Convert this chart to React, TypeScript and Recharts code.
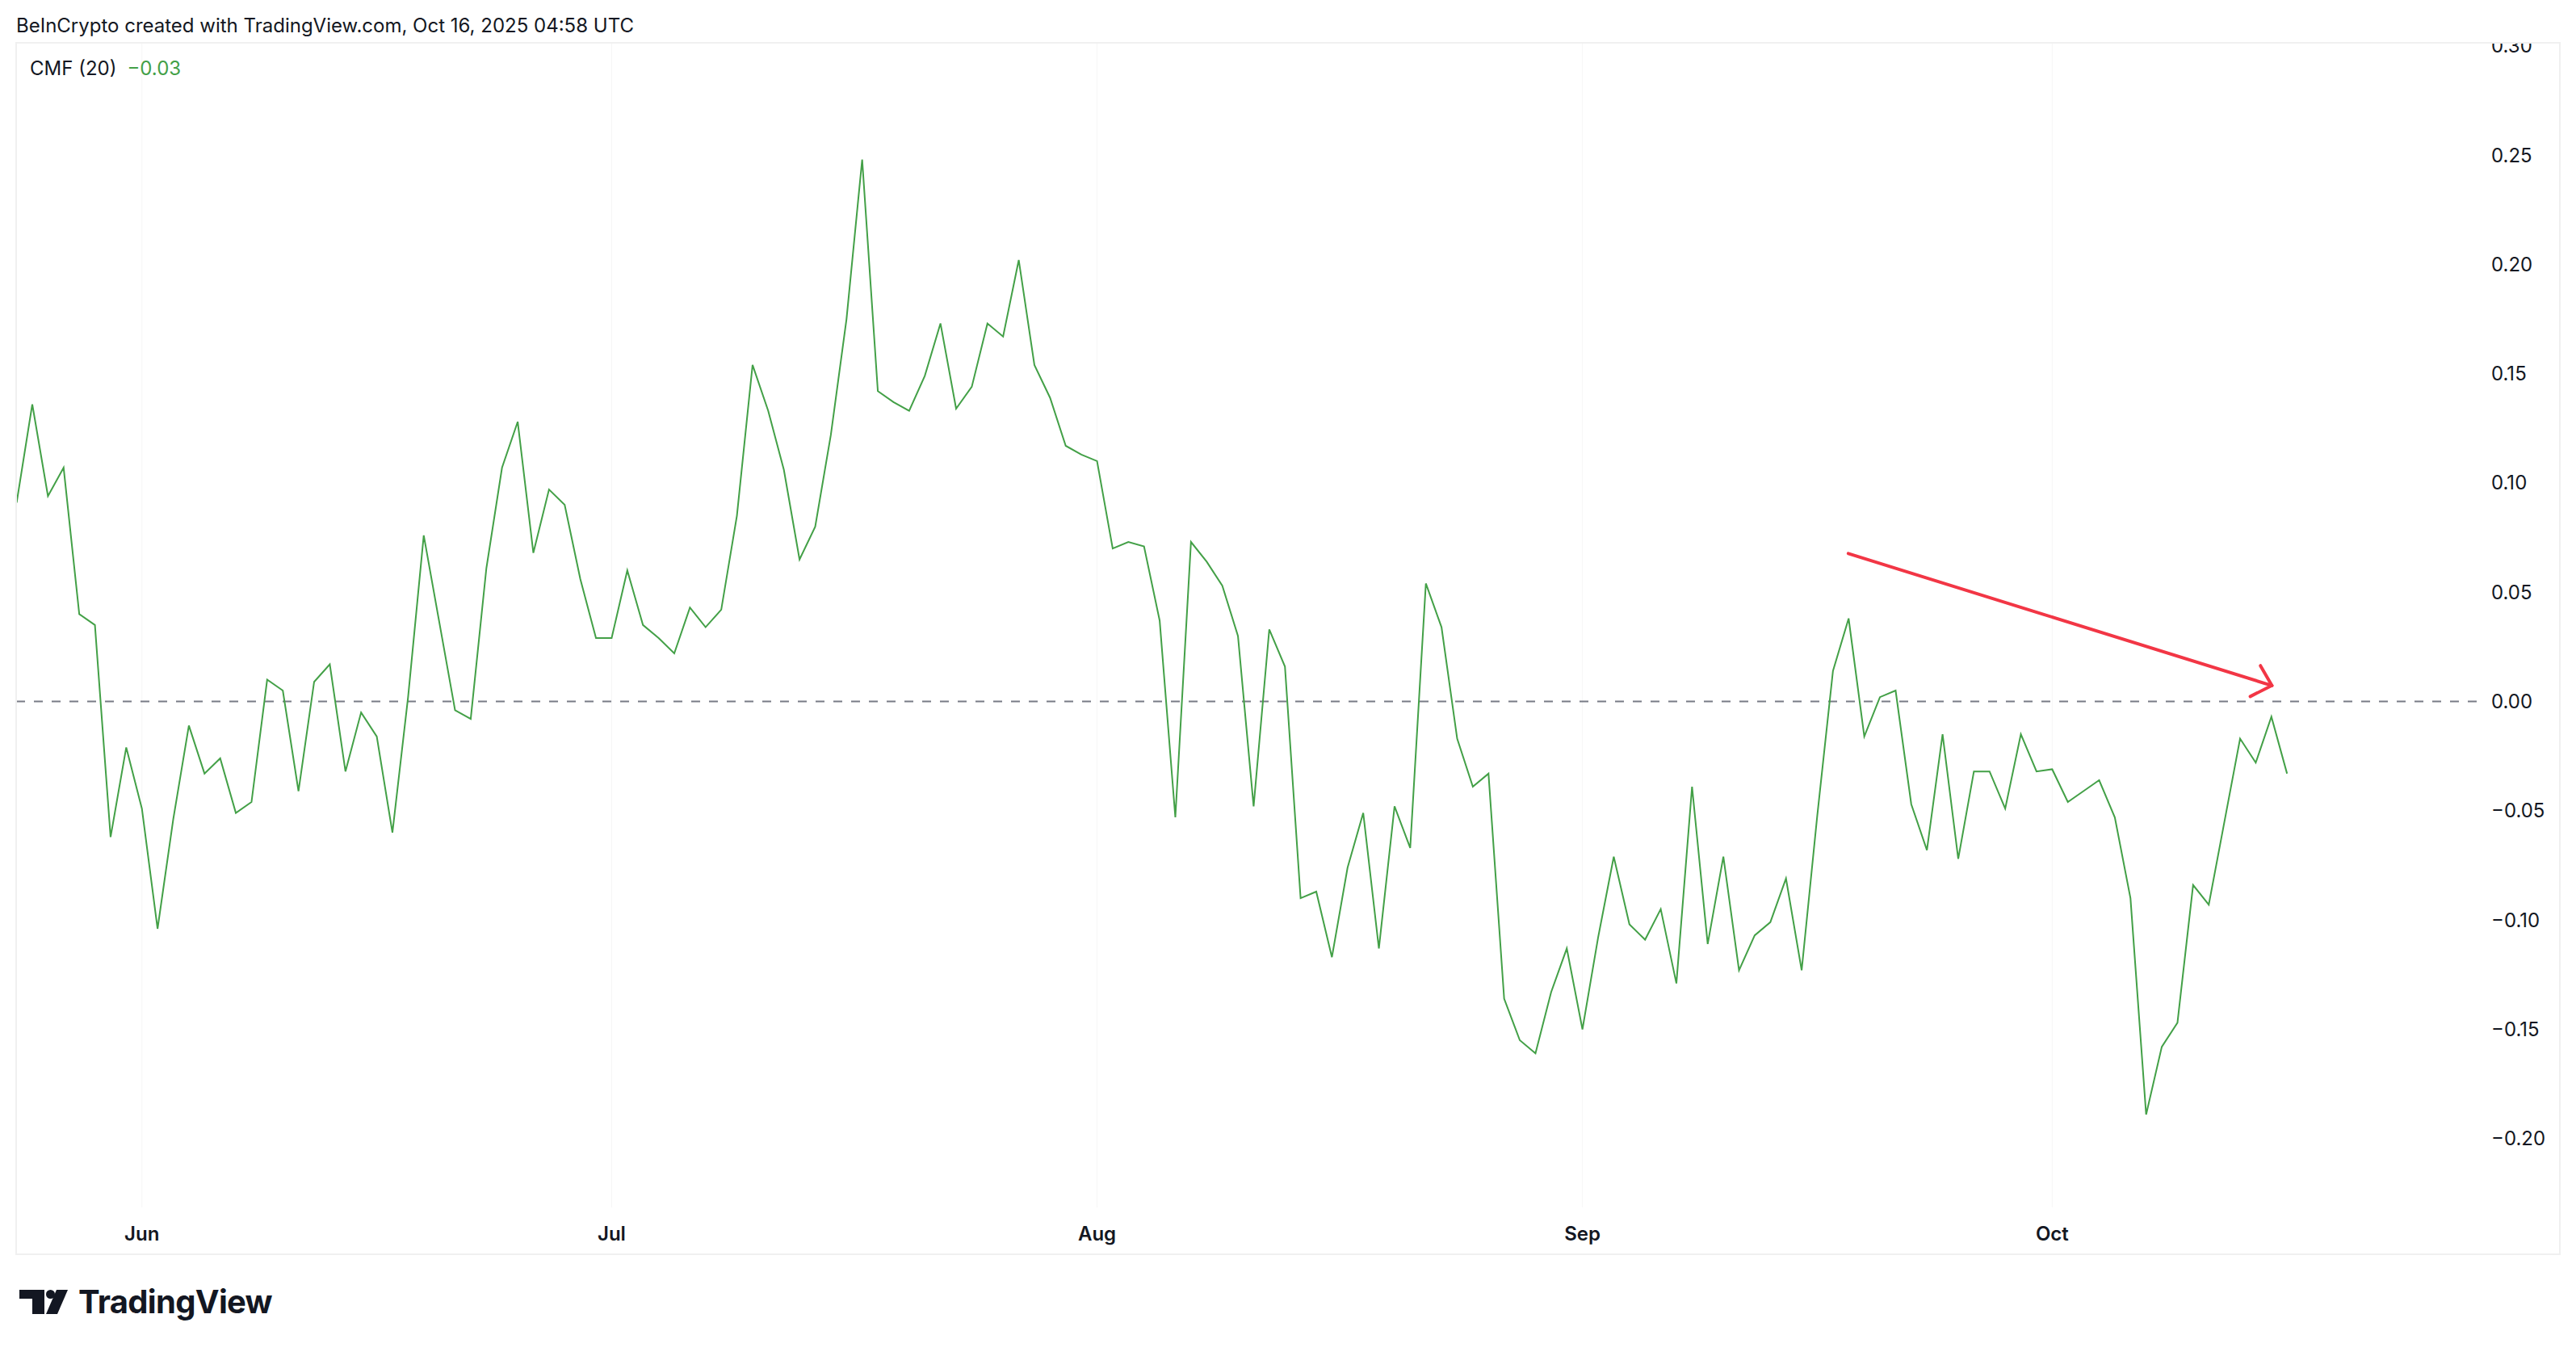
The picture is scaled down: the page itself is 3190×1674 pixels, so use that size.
import React from "react";
import { LineChart, Line, XAxis, YAxis, ReferenceLine } from "recharts";

// ─── Data ─────────────────────────────────────────────────
// CMF (20), one value per day, 24 May → 16 Oct 2025 (index 0 = 24 May)

const cmfValues: number[] = [
  0.091, 0.136, 0.094, 0.107, 0.04, 0.035, -0.062, -0.021, -0.049, -0.104,
  -0.054, -0.011, -0.033, -0.026, -0.051, -0.046, 0.01, 0.005, -0.041, 0.009,
  0.017, -0.032, -0.005, -0.016, -0.06, 0.002, 0.076, 0.036, -0.004, -0.008,
  0.061, 0.107, 0.128, 0.068, 0.097, 0.09, 0.056, 0.029, 0.029, 0.06,
  0.035, 0.029, 0.022, 0.043, 0.034, 0.042, 0.085, 0.154, 0.133, 0.106,
  0.065, 0.08, 0.122, 0.175, 0.248, 0.142, 0.137, 0.133, 0.149, 0.173,
  0.134, 0.144, 0.173, 0.167, 0.202, 0.154, 0.139, 0.117, 0.113, 0.11,
  0.07, 0.073, 0.071, 0.037, -0.053, 0.073, 0.064, 0.053, 0.03, -0.048,
  0.033, 0.016, -0.09, -0.087, -0.117, -0.076, -0.051, -0.113, -0.048, -0.067,
  0.054, 0.034, -0.017, -0.039, -0.033, -0.136, -0.155, -0.161, -0.133, -0.113,
  -0.15, -0.108, -0.071, -0.102, -0.109, -0.095, -0.129, -0.039, -0.111, -0.071,
  -0.123, -0.107, -0.101, -0.081, -0.123, -0.052, 0.014, 0.038, -0.016, 0.002,
  0.005, -0.047, -0.068, -0.015, -0.072, -0.032, -0.032, -0.049, -0.015, -0.032,
  -0.031, -0.046, -0.041, -0.036, -0.053, -0.09, -0.189, -0.158, -0.147, -0.084,
  -0.093, -0.055, -0.017, -0.028, -0.007, -0.033,
];

// month labels sit on the first day of each month (day index)
const monthTicks: number[] = [8, 38, 69, 100, 130];
const monthLabels: string[] = ["Jun", "Jul", "Aug", "Sep", "Oct"];

const yTicks: number[] = [-0.2, -0.15, -0.1, -0.05, 0, 0.05, 0.1, 0.15, 0.2, 0.25, 0.3];

// red trend arrow drawn over the chart (day index, value)
const arrowStart = { x: 116.98, y: 0.0677 };
const arrowTip = { x: 144.03, y: 0.0073 };
const arrowWingA = { x: 143.3, y: 0.0164 };
const arrowWingB = { x: 142.65, y: 0.0023 };

const chartData = cmfValues.map((v, i) => ({ day: i, cmf: v }));

// ─── Helpers ──────────────────────────────────────────────

const FONT = "Inter, 'Noto Sans', Roboto, sans-serif";
const GREEN = "#43a047";
const RED = "#f23645";
const TEXT = "#131722";

function formatValue(v: number): string {
  const s = Math.abs(v).toFixed(2);
  return v < -1e-9 ? "\u2212" + s : s;
}

function formatMonth(day: number): string {
  const k = monthTicks.indexOf(day);
  return k >= 0 ? monthLabels[k] : "";
}

function TvLogo() {
  return (
    <div
      style={{
        position: "absolute",
        left: 24,
        top: 1590,
        display: "flex",
        alignItems: "center",
        height: 44,
      }}
    >
      <svg width={60} height={30} viewBox="0 0 60 30" style={{ display: "block" }}>
        <path d="M0 0 H31 V30 H16 V11 H0 Z" fill={TEXT} />
        <circle cx={38.5} cy={5.5} r={5.5} fill={TEXT} />
        <path d="M46 0 H60 L47 30 H33 Z" fill={TEXT} />
      </svg>
      <span
        style={{
          marginLeft: 13,
          fontSize: 40,
          fontWeight: 700,
          letterSpacing: -0.7,
          color: TEXT,
          lineHeight: "44px",
        }}
      >
        TradingView
      </span>
    </div>
  );
}

// ─── Main Component ───────────────────────────────────────

export default function App() {
  return (
    <div
      style={{
        position: "absolute",
        left: 0,
        top: 0,
        width: 3190,
        height: 1674,
        background: "#ffffff",
        fontFamily: FONT,
        overflow: "hidden",
      }}
    >
      <style>{"body{margin:0}"}</style>

      {/* header */}
      <div
        style={{
          position: "absolute",
          left: 20,
          top: 20,
          fontSize: 24,
          lineHeight: "24px",
          color: TEXT,
          whiteSpace: "nowrap",
        }}
      >
        BeInCrypto created with TradingView.com, Oct 16, 2025 04:58 UTC
      </div>

      {/* pane border */}
      <div
        style={{
          position: "absolute",
          left: 19,
          top: 52,
          width: 3152,
          height: 1502,
          border: "2px solid #f0f0f0",
          boxSizing: "border-box",
        }}
      />

      {/* chart, clipped to the pane (the top 0.30 label is cut as in TradingView) */}
      <div
        style={{
          position: "absolute",
          left: 21,
          top: 54,
          width: 3148,
          height: 1498,
          overflow: "hidden",
        }}
      >
        <div style={{ position: "absolute", left: -21, top: -54 }}>
          <LineChart
            width={3190}
            height={1674}
            data={chartData}
            margin={{ top: 53, right: 20, bottom: 121, left: 20 }}
          >
            <XAxis
              dataKey="day"
              type="number"
              domain={[-0.031, 157.11]}
              allowDataOverflow
              ticks={monthTicks}
              interval={0}
              tickFormatter={formatMonth}
              height={58}
              axisLine={false}
              tickLine={false}
              tickSize={0}
              tickMargin={24}
              tick={{ fontSize: 24, fontWeight: 600, fill: TEXT, fontFamily: FONT }}
            />
            <YAxis
              orientation="right"
              type="number"
              domain={[-0.2315, 0.3014]}
              allowDataOverflow
              ticks={yTicks}
              interval={0}
              tickFormatter={formatValue}
              width={103}
              axisLine={false}
              tickLine={false}
              tickSize={0}
              tickMargin={18}
              tick={{ fontSize: 24, fill: TEXT, fontFamily: FONT, textAnchor: "start" }}
            />
            {/* very faint month grid lines */}
            {monthTicks.map((d) => (
              <ReferenceLine key={d} x={d} stroke="#f6f6f6" strokeWidth={1} />
            ))}
            <ReferenceLine
              y={0}
              stroke="#787b86"
              strokeWidth={2}
              strokeDasharray="11 11"
            />
            <Line
              type="linear"
              dataKey="cmf"
              stroke={GREEN}
              strokeWidth={2}
              dot={false}
              activeDot={false}
              isAnimationActive={false}
            />
            <ReferenceLine
              segment={[arrowStart, arrowTip]}
              stroke={RED}
              strokeWidth={4}
              strokeLinecap="round"
              ifOverflow="visible"
            />
            <ReferenceLine
              segment={[arrowWingA, arrowTip]}
              stroke={RED}
              strokeWidth={4}
              strokeLinecap="round"
              ifOverflow="visible"
            />
            <ReferenceLine
              segment={[arrowWingB, arrowTip]}
              stroke={RED}
              strokeWidth={4}
              strokeLinecap="round"
              ifOverflow="visible"
            />
          </LineChart>
        </div>
      </div>

      {/* legend */}
      <div
        style={{
          position: "absolute",
          left: 37,
          top: 73,
          fontSize: 24,
          lineHeight: "24px",
          whiteSpace: "nowrap",
        }}
      >
        <span style={{ color: TEXT }}>CMF (20)</span>
        <span style={{ color: GREEN, marginLeft: 13 }}>{"\u22120.03"}</span>
      </div>

      <TvLogo />
    </div>
  );
}
